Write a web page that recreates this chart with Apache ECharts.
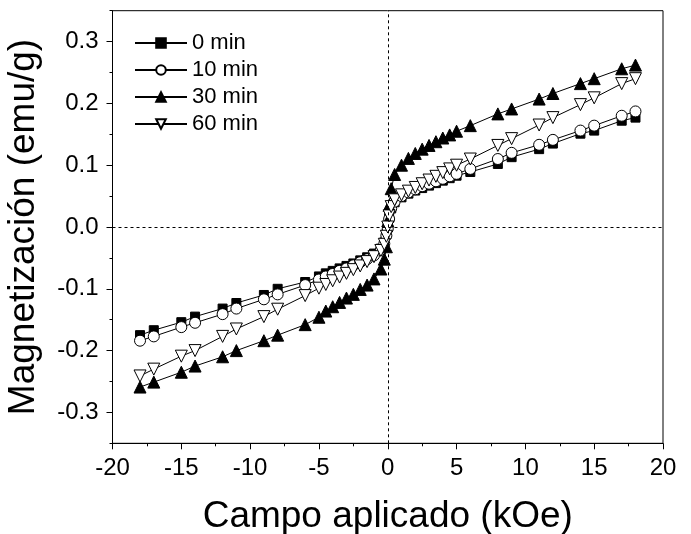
<!DOCTYPE html>
<html>
<head>
<meta charset="utf-8">
<script src="https://cdn.jsdelivr.net/npm/echarts@6/dist/echarts.min.js"></script>
<style>html,body{margin:0;padding:0;background:#fff}#c{width:691px;height:534px}</style>
</head>
<body>
<div id="c"></div>
<script>
var field = [-18,-17,-15,-14,-12,-11,-9,-8,-6,-5,-4.5,-4,-3.5,-3,-2.5,-2,-1.5,-1,-0.5,-0.25,-0.1,0,0.1,0.25,0.5,1,1.5,2,2.5,3,3.5,4,4.5,5,6,8,9,11,12,14,15,17,18];
var m0 = [-0.175,-0.167,-0.154,-0.145,-0.132,-0.123,-0.110,-0.100,-0.089,-0.080,-0.075,-0.071,-0.067,-0.063,-0.059,-0.054,-0.049,-0.043,-0.035,-0.025,-0.012,0.000,0.015,0.030,0.040,0.048,0.054,0.059,0.063,0.067,0.071,0.075,0.079,0.083,0.089,0.102,0.113,0.126,0.135,0.151,0.156,0.172,0.177];
var m10 = [-0.184,-0.177,-0.162,-0.155,-0.141,-0.132,-0.117,-0.109,-0.094,-0.085,-0.080,-0.076,-0.071,-0.067,-0.062,-0.057,-0.052,-0.046,-0.037,-0.027,-0.014,-0.003,0.013,0.030,0.041,0.050,0.056,0.061,0.066,0.070,0.074,0.078,0.082,0.086,0.094,0.110,0.120,0.133,0.141,0.156,0.164,0.180,0.187];
var m30 = [-0.259,-0.251,-0.235,-0.225,-0.210,-0.200,-0.184,-0.175,-0.158,-0.146,-0.136,-0.129,-0.122,-0.115,-0.109,-0.101,-0.094,-0.084,-0.068,-0.052,-0.032,0.010,0.035,0.062,0.085,0.100,0.111,0.119,0.126,0.132,0.138,0.144,0.149,0.155,0.164,0.183,0.191,0.207,0.216,0.232,0.240,0.256,0.262];
var m60 = [-0.241,-0.230,-0.209,-0.200,-0.177,-0.165,-0.145,-0.133,-0.111,-0.099,-0.093,-0.087,-0.081,-0.075,-0.069,-0.063,-0.056,-0.048,-0.038,-0.028,-0.015,0.000,0.018,0.033,0.044,0.052,0.058,0.064,0.070,0.076,0.082,0.088,0.094,0.100,0.110,0.132,0.143,0.165,0.177,0.198,0.209,0.232,0.240];
var seriesNames = ['0 min','10 min','30 min','60 min'];
var yMajorTicks = [-0.3,-0.2,-0.1,0,0.1,0.2,0.3];
var yMinorTicks = [-0.35,-0.25,-0.15,-0.05,0.05,0.15,0.25,0.35];

function pairs(ys){ return field.map(function(x,i){ return [x, ys[i]]; }); }

var font = 'Liberation Sans, Arial, sans-serif';
var chart = echarts.init(document.getElementById('c'), null, {renderer:'canvas'});
function mk(name, ys, symbol, size, fill, rot){
  return {
    name: name, type: 'line', data: pairs(ys), xAxisIndex:0, yAxisIndex:0,
    symbol: symbol, symbolSize: size, symbolRotate: rot || 0, showAllSymbol: true,
    lineStyle: {color:'#000', width:1},
    itemStyle: {color: fill, borderColor:'#000', borderWidth:1},
    emphasis: {disabled:true}, animation:false, z: 3
  };
}
var series = [
  mk(seriesNames[0], m0, 'rect', 9, '#000'),
  mk(seriesNames[1], m10, 'circle', 11, '#fff'),
  mk(seriesNames[2], m30, 'triangle', 12, '#000'),
  mk(seriesNames[3], m60, 'triangle', 12, '#fff', 180)
];
series[0].markLine = {
  silent:true, symbol:['none','none'], animation:false,
  label:{show:false},
  lineStyle:{color:'#000', type:[3,3], width:1},
  data:[{xAxis:0},{yAxis:0}]
};

chart.setOption({
  animation:false,
  backgroundColor:'#fff',
  grid:{left:112.5, right:28, top:10.7, bottom:90.7, outerBoundsMode:'none', containLabel:false,
    show:true, borderColor:'#000', borderWidth:1, backgroundColor:'transparent'},
  legend:{
    orient:'vertical', left:129, top:27, itemWidth:52, itemHeight:12, itemGap:5,
    textStyle:{fontFamily:font, fontSize:22, color:'#000'},
    data: seriesNames
  },
  xAxis:[{
    type:'value', min:-20, max:20, interval:5,
    axisLine:{onZero:false, lineStyle:{color:'#000', width:1}},
    axisTick:{show:true, length:6, lineStyle:{color:'#000'}},
    minorTick:{show:true, splitNumber:2, length:3, lineStyle:{color:'#000'}},
    splitLine:{show:false},
    axisLabel:{fontFamily:font, fontSize:24, color:'#000', margin:13, formatter:function(v){return String(v);}},
    name:'Campo aplicado (kOe)', nameLocation:'middle', nameGap:55,
    nameTextStyle:{fontFamily:font, fontSize:37, color:'#000'}
  }],
  yAxis:[{
    type:'value', min:-0.35, max:0.35,
    axisLine:{onZero:false, lineStyle:{color:'#000', width:1}},
    axisTick:{show:true, length:6, customValues:yMajorTicks, lineStyle:{color:'#000'}},
    splitLine:{show:false},
    axisLabel:{fontFamily:font, fontSize:24, color:'#000', margin:14, customValues:yMajorTicks,
      formatter:function(v){return v.toFixed(1);}},
    name:'Magnetización (emu/g)', nameLocation:'middle', nameGap:70,
    nameTextStyle:{fontFamily:font, fontSize:37, color:'#000'}
  },{
    type:'value', min:-0.35, max:0.35, position:'left',
    axisLine:{show:false, onZero:false},
    axisTick:{show:true, length:3, customValues:yMinorTicks, lineStyle:{color:'#000'}},
    axisLabel:{show:false}, splitLine:{show:false}
  }],
  series: series
});
</script>
</body>
</html>
